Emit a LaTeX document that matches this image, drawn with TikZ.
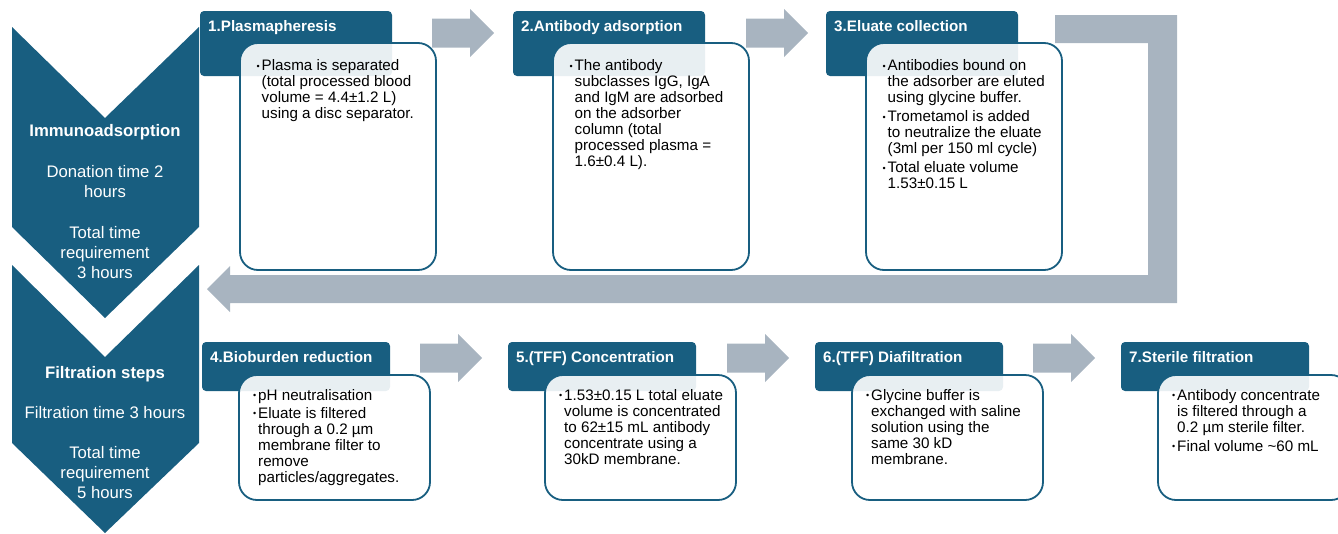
\documentclass[tikz,border=0pt]{standalone}
\usepackage{fontspec}
\setmainfont{Liberation Sans}
\usepackage{tikz}
\usetikzlibrary{positioning}

\newcommand{\bodyfont}{\fontsize{15.2}{16}\selectfont}
\newcommand{\titlefont}{\fontsize{15.2}{16}\selectfont\bfseries}
\newcommand{\chevfont}{\fontsize{16.7}{20}\selectfont}
\newcommand{\bul}{\makebox[5pt][l]{\raisebox{1.6pt}{\fontsize{9}{9}\selectfont\textbullet}}}

\begin{document}
\begin{tikzpicture}[x=1pt, y=-1pt,
    titlebox/.style={fill=petrol, rounded corners=4pt, anchor=north west, inner sep=0pt, outer sep=0pt},
    titletext/.style={anchor=base west, inner sep=0pt, text=white, font=\titlefont},
    card/.style={draw=petrol, line width=1.8pt, fill=white, fill opacity=0.9, rounded corners=18pt, anchor=north west, inner sep=0pt, outer sep=0pt},
    cardtext/.style={anchor=base west, inner sep=0pt, text=black, font=\bodyfont},
    chevtext/.style={anchor=base, inner sep=0pt, text=white, font=\chevfont},
    toprow/.style={minimum width=192pt, minimum height=65pt},
    lowrow/.style={minimum width=188pt, minimum height=49pt},
    topcard/.style={minimum width=196pt, minimum height=227pt},
    lowcard/.style={minimum width=191pt, minimum height=125pt}]
    \definecolor{petrol}{RGB}{24,94,128}
    \definecolor{arrowgrey}{RGB}{168,180,192}
    \def\garrow#1#2{\fill[arrowgrey] (#1,#2-14.5) -- ++(38,0) -- ++(0,-9.5) -- ++(24,24) -- ++(-24,24) -- ++(0,-9.5) -- ++(-38,0) -- cycle;}

    \useasboundingbox (0,0) rectangle (1338,533);
    \clip (0,0) rectangle (1338,533);

    \fill[petrol] (12,27) -- (105,118) -- (199,27) -- (199,227) -- (105,318) -- (12,227) -- cycle;
    \fill[petrol] (12,265) -- (105,357) -- (199,265) -- (199,443) -- (105,533) -- (12,443) -- cycle;

    \fill[arrowgrey] (1055,15) -- (1177,15) -- (1177,303) -- (230,303) -- (230,312) -- (207,289)
        -- (230,266) -- (230,275) -- (1148,275) -- (1148,43) -- (1055,43) -- cycle;
    \garrow{432}{33}
    \garrow{746}{33}
    \garrow{420}{358}
    \garrow{727}{358}
    \garrow{1033}{358}

    \node[titlebox, toprow] (t1) at (200,11) {};
    \node[titlebox, toprow] (t2) at (513,11) {};
    \node[titlebox, toprow] (t3) at (826,11) {};
    \node[titlebox, lowrow] (t4) at (202,342) {};
    \node[titlebox, lowrow] (t5) at (508,342) {};
    \node[titlebox, lowrow] (t6) at (815,342) {};
    \node[titlebox, lowrow] (t7) at (1121,342) {};

    \node[titletext] (h1) at ([shift={(8,20.7)}]t1.north west) {1.Plasmapheresis};
    \node[titletext] (h2) at ([shift={(8,20.7)}]t2.north west) {2.Antibody adsorption};
    \node[titletext] (h3) at ([shift={(8,20.7)}]t3.north west) {3.Eluate collection};
    \node[titletext] (h4) at ([shift={(8,20.7)}]t4.north west) {4.Bioburden reduction};
    \node[titletext] (h5) at ([shift={(8,20.7)}]t5.north west) {5.(TFF) Concentration};
    \node[titletext] (h6) at ([shift={(8,20.7)}]t6.north west) {6.(TFF) Diafiltration};
    \node[titletext] (h7) at ([shift={(8,20.7)}]t7.north west) {7.Sterile filtration};

    \node[card, topcard] (c1) at ([shift={(40,32)}]t1.north west) {};
    \node[card, topcard] (c2) at ([shift={(40,32)}]t2.north west) {};
    \node[card, topcard] (c3) at ([shift={(40,32)}]t3.north west) {};
    \node[card, lowcard] (c4) at ([shift={(37,33)}]t4.north west) {};
    \node[card, lowcard] (c5) at ([shift={(37,33)}]t5.north west) {};
    \node[card, lowcard] (c6) at ([shift={(37,33)}]t6.north west) {};
    \node[card, lowcard] (c7) at ([shift={(37,33)}]t7.north west) {};

    \node[cardtext] (x1) at ([shift={(16.5,27.7)}]c1.north west) {\begin{tabular}[t]{@{}l@{}l@{}}
        \bul & Plasma is separated\\ & (total processed blood\\ & volume = 4.4±1.2 L)\\ & using a disc separator.
        \end{tabular}};
    \node[cardtext] (x2) at ([shift={(16.5,27.7)}]c2.north west) {\begin{tabular}[t]{@{}l@{}l@{}}
        \bul & The antibody\\ & subclasses IgG, IgA\\ & and IgM are adsorbed\\ & on the adsorber\\
        & column (total\\ & processed plasma =\\ & 1.6±0.4 L).
        \end{tabular}};
    \node[cardtext] (x3) at ([shift={(16.5,27.7)}]c3.north west) {\begin{tabular}[t]{@{}l@{}l@{}}
        \bul & Antibodies bound on\\ & the adsorber are eluted\\ & using glycine buffer.\\[3pt]
        \bul & Trometamol is added\\ & to neutralize the eluate\\ & (3ml per 150 ml cycle)\\[3pt]
        \bul & Total eluate volume\\ & 1.53±0.15 L
        \end{tabular}};
    \node[cardtext] (x4) at ([shift={(14,25.3)}]c4.north west) {\begin{tabular}[t]{@{}l@{}l@{}}
        \bul & pH neutralisation\\[2pt]
        \bul & Eluate is filtered\\ & through a 0.2 µm\\ & membrane filter to\\ & remove\\ & particles/aggregates.
        \end{tabular}};
    \node[cardtext] (x5) at ([shift={(14,25.3)}]c5.north west) {\begin{tabular}[t]{@{}l@{}l@{}}
        \bul & 1.53±0.15 L total eluate\\ & volume is concentrated\\ & to 62±15 mL antibody\\ & concentrate using a\\ & 30kD membrane.
        \end{tabular}};
    \node[cardtext] (x6) at ([shift={(14,25.3)}]c6.north west) {\begin{tabular}[t]{@{}l@{}l@{}}
        \bul & Glycine buffer is\\ & exchanged with saline\\ & solution using the\\ & same 30 kD\\ & membrane.
        \end{tabular}};
    \node[cardtext] (x7) at ([shift={(14,25.3)}]c7.north west) {\begin{tabular}[t]{@{}l@{}l@{}}
        \bul & Antibody concentrate\\ & is filtered through a\\ & 0.2 µm sterile filter.\\[3pt]
        \bul & Final volume \textasciitilde60 mL
        \end{tabular}};

    \node[chevtext] (ia) at (105,136) {\begin{tabular}[t]{@{}c@{}}
        \textbf{Immunoadsorption}\\[21pt] Donation time 2\\ hours\\[21pt] Total time\\ requirement\\ 3 hours
        \end{tabular}};
    \node[chevtext] (fs) at (105,378) {\begin{tabular}[t]{@{}c@{}}
        \textbf{Filtration steps}\\[20pt] Filtration time 3 hours\\[20pt] Total time\\ requirement\\ 5 hours
        \end{tabular}};
\end{tikzpicture}
\end{document}
